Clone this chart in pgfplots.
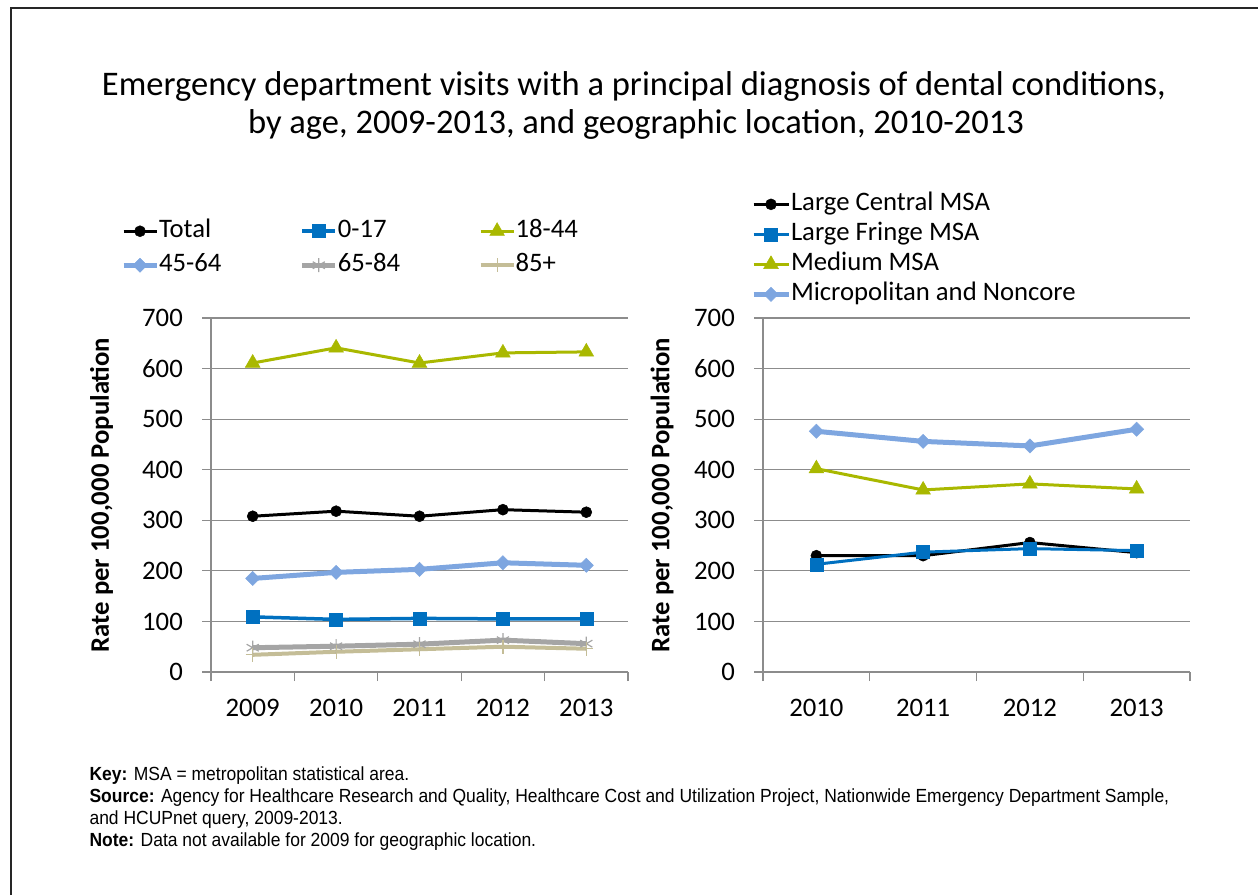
\documentclass[border=0pt]{standalone}
\usepackage{pgfplots}
\pgfplotsset{compat=1.18}
\usepackage{fontspec}
\setmainfont{Carlito}
\newfontfamily\footfont[FakeStretch=0.92]{Liberation Sans}
\definecolor{cA}{HTML}{0070C0}
\definecolor{cB}{HTML}{A9B800}
\definecolor{cC}{HTML}{7EA6E0}
\definecolor{cD}{HTML}{A5A5A5}
\definecolor{cE}{HTML}{C4BD97}
\definecolor{axisgray}{HTML}{8C8C8C}
\newcommand{\chartfont}{\fontsize{26.7}{30}\selectfont}
\pgfplotsset{
  myaxis/.style={
    scale only axis,
    /pgf/number format/assume math mode=true,
    ymin=0, ymax=700, ytick={0,100,...,700},
    ymajorgrids,
    grid style={axisgray, line width=1.2pt},
    axis x line*=bottom, axis y line*=left,
    axis line style={axisgray, line width=1.2pt, -},
    tick style={axisgray, line width=1.2pt},
    tick align=outside, major tick length=9pt,
    tick label style={font=\chartfont},
    x tick label as interval,
    yticklabel style={inner sep=0pt, xshift=-19pt},
    xticklabel style={inner sep=0pt, yshift=-18pt},
    ylabel style={font=\chartfont\bfseries, anchor=center, rotate=0},
    legend cell align=left,
    legend style={draw=none, fill=none, inner sep=0pt, outer sep=0pt, font=\chartfont,
      nodes={inner sep=0pt, text height=18pt, text depth=6pt}},
  },
}
\begin{document}
\begin{tikzpicture}[x=1pt,y=1pt]
\useasboundingbox (0,0) rectangle (1258,895);
\draw[line width=1.3pt, black!85] (11,0) -- (11,887) -- (1258,887);
\node[font=\fontsize{34.5}{38}\selectfont, anchor=base] at (634,799.3) {Emergency department visits with a principal diagnosis of dental conditions,};
\node[font=\fontsize{34.5}{38}\selectfont, anchor=base] at (636,761.3) {by age, 2009-2013, and geographic location, 2010-2013};

\begin{axis}[myaxis,
  at={(211pt,223pt)}, anchor=south west,
  width=417pt, height=354pt,
  xmin=0.5, xmax=5.5, xtick={0.5,1.5,...,5.5},
  xticklabels={2009,2010,2011,2012,2013},
  ylabel={Rate per 100,000 Population},
  ylabel style={at={(axis description cs:-0.2626,0.5)}},
  legend columns=3,
  legend style={at={(axis description cs:-0.2158,1.279)}, anchor=north west,
    row sep=10pt,
    /tikz/every odd column/.append style={column sep=0pt},
    /tikz/every even column/.append style={column sep=78.5pt}},
  legend image code/.code={\draw[mark repeat=2,mark phase=2,#1] plot coordinates {(0pt,0pt)(16.5pt,0pt)(33pt,0pt)};},
]
\addplot[black, line width=3pt, mark=*, mark size=5.5pt, mark options={line width=0.5pt}]
  coordinates {(1,308) (2,318) (3,308) (4,321) (5,316)};
\addlegendentry{Total}
\addplot[cA, line width=3.5pt, mark=square*, mark size=6.5pt, mark options={line width=0.5pt}]
  coordinates {(1,109) (2,104) (3,106) (4,105) (5,105)};
\addlegendentry{0-17}
\addplot[cB, line width=3pt, mark=triangle*, mark size=8.5pt, mark options={line width=0.5pt}]
  coordinates {(1,611) (2,641) (3,611) (4,631) (5,633)};
\addlegendentry{18-44}
\addplot[cC, line width=5pt, mark=square*, mark size=5pt, mark options={line width=0.5pt, rotate=45}]
  coordinates {(1,185) (2,197) (3,203) (4,216) (5,211)};
\addlegendentry{45-64}
\addplot[cD, line width=5pt, mark=asterisk, mark size=7pt, mark options={line width=1.2pt}]
  coordinates {(1,48) (2,51) (3,55) (4,63) (5,56)};
\addlegendentry{65-84}
\addplot[cE, line width=4pt, mark=+, mark size=7pt, mark options={line width=1.2pt}]
  coordinates {(1,34) (2,40) (3,45) (4,50) (5,46)};
\addlegendentry{85+}
\end{axis}

\begin{axis}[myaxis,
  at={(763pt,223pt)}, anchor=south west,
  width=427pt, height=354pt,
  xmin=0.5, xmax=4.5, xtick={0.5,1.5,...,4.5},
  xticklabels={2010,2011,2012,2013},
  ylabel={Rate per 100,000 Population},
  ylabel style={at={(axis description cs:-0.2365,0.5)}},
  legend style={at={(axis description cs:-0.0281,1.355)}, anchor=north west,
    row sep=6pt,
    /tikz/every odd column/.append style={column sep=0pt}},
  legend image code/.code={\draw[mark repeat=2,mark phase=2,#1] plot coordinates {(0pt,0pt)(17.5pt,0pt)(35pt,0pt)};},
]
\addplot[black, line width=3pt, mark=*, mark size=5.5pt, mark options={line width=0.5pt}]
  coordinates {(1,230) (2,230) (3,256) (4,236)};
\addlegendentry{Large Central MSA}
\addplot[cA, line width=3pt, mark=square*, mark size=6.5pt, mark options={line width=0.5pt}]
  coordinates {(1,213) (2,237) (3,244) (4,240)};
\addlegendentry{Large Fringe MSA}
\addplot[cB, line width=3pt, mark=triangle*, mark size=8.5pt, mark options={line width=0.5pt}]
  coordinates {(1,402) (2,360) (3,372) (4,362)};
\addlegendentry{Medium MSA}
\addplot[cC, line width=5pt, mark=square*, mark size=5pt, mark options={line width=0.5pt, rotate=45}]
  coordinates {(1,476) (2,456) (3,447) (4,480)};
\addlegendentry{Micropolitan and Noncore}
\end{axis}

\node[anchor=base west, align=left, font=\footfont\fontsize{19}{21.7}\selectfont] at (86,49) {%
\textbf{Key:} MSA = metropolitan statistical area.\\
\textbf{Source:} Agency for Healthcare Research and Quality, Healthcare Cost and Utilization Project, Nationwide Emergency Department Sample,\\
and HCUPnet query, 2009-2013.\\
\textbf{Note:} Data not available for 2009 for geographic location.};
\end{tikzpicture}
\end{document}
